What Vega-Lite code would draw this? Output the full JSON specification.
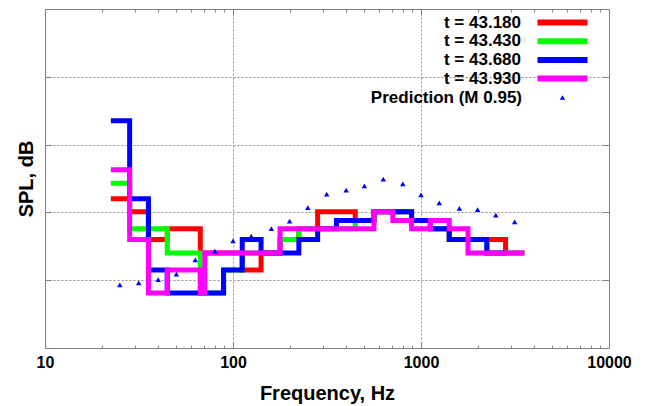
{
  "$schema": "https://vega.github.io/schema/vega-lite/v6.json",
  "width": 564,
  "height": 339,
  "autosize": "none",
  "padding": {"left": 45, "top": 9, "right": 39, "bottom": 58},
  "background": "white",
  "config": {
    "view": {"stroke": "#808080", "strokeWidth": 1},
    "font": "Liberation Sans"
  },
  "data": {
    "values": [
      {"series": "t = 43.180", "f": 22.4, "spl": 22.0},
      {"series": "t = 43.180", "f": 28.2, "spl": 20.1},
      {"series": "t = 43.180", "f": 35.5, "spl": 16.0},
      {"series": "t = 43.180", "f": 44.7, "spl": 17.6},
      {"series": "t = 43.180", "f": 67, "spl": 14.0},
      {"series": "t = 43.180", "f": 112, "spl": 11.5},
      {"series": "t = 43.180", "f": 141, "spl": 14.0},
      {"series": "t = 43.180", "f": 178, "spl": 16.0},
      {"series": "t = 43.180", "f": 224, "spl": 17.6},
      {"series": "t = 43.180", "f": 282, "spl": 20.1},
      {"series": "t = 43.180", "f": 447, "spl": 18.8},
      {"series": "t = 43.180", "f": 562, "spl": 20.1},
      {"series": "t = 43.180", "f": 891, "spl": 18.8},
      {"series": "t = 43.180", "f": 1122, "spl": 17.6},
      {"series": "t = 43.180", "f": 1413, "spl": 16.0},
      {"series": "t = 43.180", "f": 2818, "spl": 14.0},
      {"series": "t = 43.180", "f": 3548, "spl": 14.0},

      {"series": "t = 43.430", "f": 22.4, "spl": 24.3},
      {"series": "t = 43.430", "f": 28.2, "spl": 17.6},
      {"series": "t = 43.430", "f": 44.7, "spl": 14.0},
      {"series": "t = 43.430", "f": 67, "spl": 8.1},
      {"series": "t = 43.430", "f": 89.1, "spl": 11.5},
      {"series": "t = 43.430", "f": 112, "spl": 14.0},
      {"series": "t = 43.430", "f": 178, "spl": 16.0},
      {"series": "t = 43.430", "f": 224, "spl": 17.6},
      {"series": "t = 43.430", "f": 447, "spl": 18.8},
      {"series": "t = 43.430", "f": 562, "spl": 20.1},
      {"series": "t = 43.430", "f": 891, "spl": 18.8},
      {"series": "t = 43.430", "f": 1122, "spl": 17.6},
      {"series": "t = 43.430", "f": 1413, "spl": 16.0},
      {"series": "t = 43.430", "f": 2239, "spl": 14.0},
      {"series": "t = 43.430", "f": 3548, "spl": 14.0},

      {"series": "t = 43.680", "f": 22.4, "spl": 33.5},
      {"series": "t = 43.680", "f": 28.2, "spl": 22.0},
      {"series": "t = 43.680", "f": 35.5, "spl": 11.5},
      {"series": "t = 43.680", "f": 44.7, "spl": 8.1},
      {"series": "t = 43.680", "f": 89.1, "spl": 11.5},
      {"series": "t = 43.680", "f": 112, "spl": 16.0},
      {"series": "t = 43.680", "f": 141, "spl": 14.0},
      {"series": "t = 43.680", "f": 224, "spl": 16.0},
      {"series": "t = 43.680", "f": 282, "spl": 17.6},
      {"series": "t = 43.680", "f": 355, "spl": 18.8},
      {"series": "t = 43.680", "f": 562, "spl": 20.1},
      {"series": "t = 43.680", "f": 891, "spl": 18.8},
      {"series": "t = 43.680", "f": 1122, "spl": 17.6},
      {"series": "t = 43.680", "f": 1413, "spl": 16.0},
      {"series": "t = 43.680", "f": 2239, "spl": 14.0},
      {"series": "t = 43.680", "f": 2818, "spl": 14.0},

      {"series": "t = 43.930", "f": 22.4, "spl": 26.3},
      {"series": "t = 43.930", "f": 28.2, "spl": 16.0},
      {"series": "t = 43.930", "f": 35.5, "spl": 8.1},
      {"series": "t = 43.930", "f": 44.7, "spl": 11.5},
      {"series": "t = 43.930", "f": 67, "spl": 8.1},
      {"series": "t = 43.930", "f": 70.8, "spl": 14.0},
      {"series": "t = 43.930", "f": 178, "spl": 17.6},
      {"series": "t = 43.930", "f": 562, "spl": 20.1},
      {"series": "t = 43.930", "f": 708, "spl": 18.8},
      {"series": "t = 43.930", "f": 891, "spl": 17.6},
      {"series": "t = 43.930", "f": 1122, "spl": 18.8},
      {"series": "t = 43.930", "f": 1413, "spl": 17.6},
      {"series": "t = 43.930", "f": 1778, "spl": 14.0},
      {"series": "t = 43.930", "f": 3548, "spl": 14.0},

      {"series": "Prediction (M 0.95)", "f": 25, "spl": 9.3},
      {"series": "Prediction (M 0.95)", "f": 31.5, "spl": 9.6},
      {"series": "Prediction (M 0.95)", "f": 40, "spl": 10.1},
      {"series": "Prediction (M 0.95)", "f": 50, "spl": 10.9},
      {"series": "Prediction (M 0.95)", "f": 63, "spl": 13.0},
      {"series": "Prediction (M 0.95)", "f": 80, "spl": 14.3},
      {"series": "Prediction (M 0.95)", "f": 100, "spl": 15.8},
      {"series": "Prediction (M 0.95)", "f": 125, "spl": 16.5},
      {"series": "Prediction (M 0.95)", "f": 160, "spl": 17.6},
      {"series": "Prediction (M 0.95)", "f": 200, "spl": 18.7},
      {"series": "Prediction (M 0.95)", "f": 250, "spl": 20.7},
      {"series": "Prediction (M 0.95)", "f": 315, "spl": 22.7},
      {"series": "Prediction (M 0.95)", "f": 400, "spl": 23.3},
      {"series": "Prediction (M 0.95)", "f": 500, "spl": 23.9},
      {"series": "Prediction (M 0.95)", "f": 630, "spl": 24.9},
      {"series": "Prediction (M 0.95)", "f": 800, "spl": 24.2},
      {"series": "Prediction (M 0.95)", "f": 1000, "spl": 22.6},
      {"series": "Prediction (M 0.95)", "f": 1250, "spl": 21.4},
      {"series": "Prediction (M 0.95)", "f": 1600, "spl": 20.6},
      {"series": "Prediction (M 0.95)", "f": 2000, "spl": 20.4},
      {"series": "Prediction (M 0.95)", "f": 2500, "spl": 19.6},
      {"series": "Prediction (M 0.95)", "f": 3150, "spl": 18.6}
    ]
  },
  "resolve": {"axis": {"x": "independent", "y": "independent"}},
  "layer": [
    {
      "transform": [{"filter": "datum.series === 't = 43.180'"}],
      "mark": {"type": "line", "interpolate": "step-after", "strokeWidth": 5, "strokeJoin": "miter"},
      "encoding": {
        "x": {
          "field": "f", "type": "quantitative",
          "scale": {"type": "log", "domain": [10, 10000], "nice": false},
          "axis": {
            "orient": "bottom",
            "values": [10, 20, 30, 40, 50, 60, 70, 80, 90, 100, 200, 300, 400, 500, 600, 700, 800, 900, 1000, 2000, 3000, 4000, 5000, 6000, 7000, 8000, 9000, 10000],
            "format": "d",
            "labelExpr": "indexof([10, 100, 1000, 10000], datum.value) >= 0 ? datum.label : ''",
            "labelOverlap": false,
            "labelFlush": false,
            "labelFont": "Liberation Sans",
            "labelFontSize": 16,
            "labelFontWeight": "bold",
            "labelColor": "black",
            "labelPadding": 12,
            "tickSize": {"condition": {"test": "indexof([10, 100, 1000, 10000], datum.value) >= 0", "value": -6}, "value": -3},
            "tickColor": "#808080",
            "domain": false,
            "grid": true,
            "gridColor": "#8c8c8c",
            "gridDash": [2, 2],
            "gridOpacity": {"condition": {"test": "datum.value === 100 || datum.value === 1000", "value": 1}, "value": 0},
            "title": "Frequency, Hz",
            "titleFont": "Liberation Sans",
            "titleFontSize": 20,
            "titleFontWeight": "bold",
            "titleColor": "black",
            "titlePadding": 10
          }
        },
        "y": {
          "field": "spl", "type": "quantitative",
          "scale": {"domain": [0, 50], "nice": false, "zero": false},
          "axis": {
            "orient": "left",
            "values": [10, 20, 30, 40],
            "labels": false,
            "tickSize": -6,
            "tickColor": "#808080",
            "domain": false,
            "grid": true,
            "gridColor": "#8c8c8c",
            "gridDash": [2, 2],
            "title": "SPL, dB",
            "titleFont": "Liberation Sans",
            "titleFontSize": 20,
            "titleFontWeight": "bold",
            "titleColor": "black",
            "titlePadding": 8
          }
        },
        "color": {
          "field": "series", "type": "nominal",
          "scale": {
            "domain": ["t = 43.180", "t = 43.430", "t = 43.680", "t = 43.930"],
            "range": ["#ff0000", "#00ff00", "#0000ff", "#ff00ff"]
          },
          "legend": {
            "orient": "none",
            "legendX": 509,
            "legendY": 5,
            "title": null,
            "padding": 0,
            "symbolType": "M-4.7,-0.3H4.7V0.3H-4.7Z",
            "symbolSize": 100,
            "symbolStrokeWidth": 3,
            "labelAlign": "right",
            "labelOffset": -50,
            "labelFont": "Liberation Sans",
            "labelFontSize": 17,
            "labelFontWeight": "bold",
            "labelColor": "black",
            "rowPadding": 0.7
          }
        }
      }
    },
    {
      "transform": [{"filter": "datum.series === 't = 43.430'"}],
      "mark": {"type": "line", "interpolate": "step-after", "strokeWidth": 5, "strokeJoin": "miter"},
      "encoding": {
        "x": {
          "field": "f", "type": "quantitative",
          "axis": {
            "orient": "top",
            "values": [10, 20, 30, 40, 50, 60, 70, 80, 90, 100, 200, 300, 400, 500, 600, 700, 800, 900, 1000, 2000, 3000, 4000, 5000, 6000, 7000, 8000, 9000, 10000],
            "labels": false,
            "tickSize": {"condition": {"test": "indexof([10, 100, 1000, 10000], datum.value) >= 0", "value": -6}, "value": -3},
            "tickColor": "#808080",
            "domain": false,
            "grid": false,
            "title": null
          }
        },
        "y": {
          "field": "spl", "type": "quantitative",
          "axis": {
            "orient": "right",
            "values": [10, 20, 30, 40],
            "labels": false,
            "tickSize": -6,
            "tickColor": "#808080",
            "domain": false,
            "grid": false,
            "title": null
          }
        },
        "color": {"field": "series", "type": "nominal"}
      }
    },
    {
      "transform": [{"filter": "datum.series === 't = 43.680'"}],
      "mark": {"type": "line", "interpolate": "step-after", "strokeWidth": 5, "strokeJoin": "miter"},
      "encoding": {
        "x": {"field": "f", "type": "quantitative", "axis": null},
        "y": {"field": "spl", "type": "quantitative", "axis": null},
        "color": {"field": "series", "type": "nominal"}
      }
    },
    {
      "transform": [{"filter": "datum.series === 't = 43.930'"}],
      "mark": {"type": "line", "interpolate": "step-after", "strokeWidth": 5, "strokeJoin": "miter"},
      "encoding": {
        "x": {"field": "f", "type": "quantitative", "axis": null},
        "y": {"field": "spl", "type": "quantitative", "axis": null},
        "color": {"field": "series", "type": "nominal"}
      }
    },
    {
      "transform": [{"filter": "datum.series === 'Prediction (M 0.95)'"}],
      "mark": {"type": "point", "filled": true, "color": "#0000ff", "opacity": 1, "size": 30},
      "encoding": {
        "x": {"field": "f", "type": "quantitative", "axis": null},
        "y": {"field": "spl", "type": "quantitative", "axis": null},
        "shape": {
          "field": "series", "type": "nominal",
          "scale": {"domain": ["Prediction (M 0.95)"], "range": ["triangle-up"]},
          "legend": {
            "orient": "none",
            "legendX": 509,
            "legendY": 80,
            "title": null,
            "padding": 0,
            "symbolSize": 30,
            "symbolFillColor": "#0000ff",
            "symbolStrokeColor": "#0000ff",
            "symbolOpacity": 1,
            "labelAlign": "right",
            "labelOffset": -49,
            "labelFont": "Liberation Sans",
            "labelFontSize": 17,
            "labelFontWeight": "bold",
            "labelColor": "black"
          }
        }
      }
    }
  ]
}
